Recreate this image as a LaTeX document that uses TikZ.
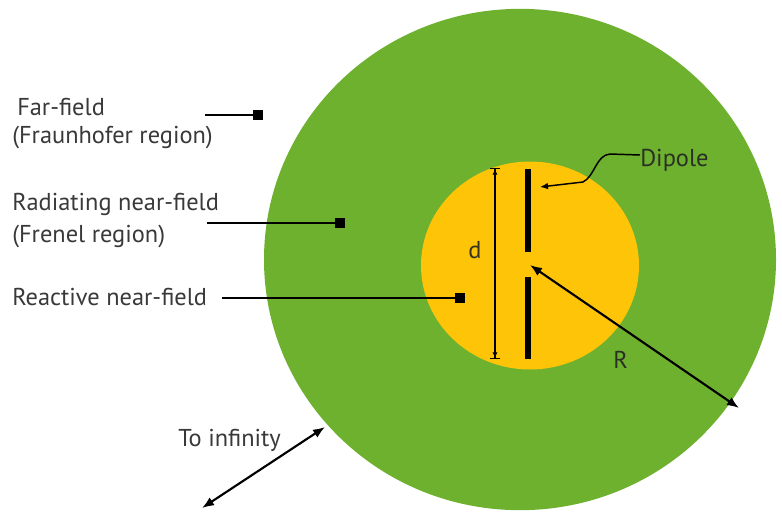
\documentclass[tikz,border=0pt]{standalone}
\usepackage{fontspec}
\setmainfont{PT Sans}
\usetikzlibrary{arrows.meta}
\definecolor{fieldgreen}{RGB}{109,177,47}
\definecolor{nearyellow}{RGB}{254,196,8}
\definecolor{labelink}{RGB}{35,35,35}

\tikzset{
  regiontext/.style={font=\fontsize{18.3}{21}\selectfont, text=labelink, text opacity=0.9, inner sep=0pt, anchor=base west},
  marker/.style={fill=black, minimum size=7.5pt, inner sep=0pt},
  leader/.style={line width=1.2pt},
  bothtips/.style={line width=1.6pt, {Latex[length=9pt,width=7pt]}-{Latex[length=9pt,width=7pt]}},
  dimline/.style={line width=1pt, {Bar[width=7pt]Latex[length=4pt,width=4pt]}-{Latex[length=4pt,width=4pt]Bar[width=7pt]}}
}

\begin{document}
\begin{tikzpicture}[x=0.75pt,y=-0.75pt]
\useasboundingbox (0,0) rectangle (782,512);
% field regions
\fill[fieldgreen] (520,259.5) ellipse [x radius=192pt, y radius=188pt];
\fill[nearyellow] (530,265.5) ellipse [x radius=81.75pt, y radius=78pt];

% dipole arms
\draw[line width=4.5pt] (528,169) -- (528,252);
\draw[line width=4.5pt] (528,277) -- (528,359);

% labels on the left
\node[regiontext] (far) at (17,115) {Far-field};
\node[regiontext] (farsub) at (12,143) {(Fraunhofer region)};
\node[regiontext] (rad) at (12,210) {Radiating near-field};
\node[regiontext] (radsub) at (12,242) {(Frenel region)};
\node[regiontext] (react) at (12,305) {Reactive near-field};

% markers and leaders
\node[marker] (farmark) at (258,115) {};
\node[marker] (radmark) at (340,223) {};
\node[marker] (reactmark) at (460,298) {};
\coordinate (farstart) at (205,115);
\coordinate (radstart) at (207,223);
\coordinate (reactstart) at (222,298);
\draw[leader] (farstart) -- (farmark);
\draw[leader] (radstart) -- (radmark);
\draw[leader] (reactstart) -- (reactmark);

% dimension d
\coordinate (dtop) at (495,168);
\coordinate (dbot) at (495,359);
\draw[dimline] (dtop) -- (dbot);
\node[regiontext] (dlabel) at (468,258) {d};

% dipole pointer
\node[regiontext] (dipole) at (640,166) {Dipole};
\coordinate (dipoletip) at (540,187);
\draw[line width=1.1pt, -{Latex[length=6pt,width=5pt]}] (dipole.west |- 0,155) -- (610,154)
  .. controls +(-14,1) and +(12,-6) .. (583,182) -- (dipoletip);

% radius R
\coordinate (centre) at (530,265);
\coordinate (rim) at (739,408);
\draw[bothtips] (centre) -- (rim);
\node[regiontext] (rlabel) at (613,368) {R};

% to infinity
\coordinate (farend) at (202,508);
\coordinate (rimleft) at (325,427);
\draw[bothtips] (farend) -- (rimleft);
\node[regiontext] (inflabel) at (178,446) {To infinity};
\end{tikzpicture}
\end{document}
